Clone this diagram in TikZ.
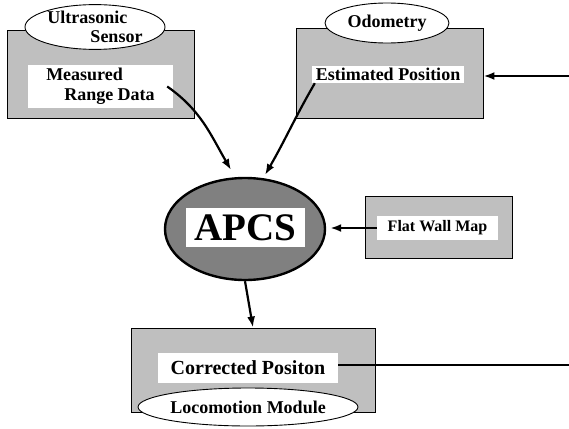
\documentclass[tikz,border=0pt]{standalone}
\usepackage{fontspec}
\setmainfont{Liberation Serif}
\usetikzlibrary{shapes.geometric,arrows.meta}

\begin{document}
\begin{tikzpicture}[x=1pt,y=1pt,
  every node/.style={inner sep=0pt,font=\bfseries\fontsize{18}{20}\selectfont},
  graybox/.style={draw=black,line width=0.9pt,fill=black!25,rectangle},
  whitebox/.style={fill=white,rectangle},
  label/.style={draw=black,line width=0.9pt,fill=white,ellipse},
  flow/.style={line width=2.2pt,-{Latex[length=11pt,width=8pt]}}]
\useasboundingbox (0,0) rectangle (569,-428);
% sensor
\node [graybox,minimum width=187,minimum height=88] (usbox) at (100.5,-74) {};
\node [label,minimum width=140,minimum height=44,align=left] (usell) at (95,-27) {Ultrasonic\\[-1pt]\hspace*{43pt}Sensor};
\node [whitebox,minimum width=145,minimum height=43,align=left] (usdata) at (100.5,-86.5) {Measured\\\hspace*{18pt}Range Data};
% odometry
\node [graybox,minimum width=187,minimum height=90] (odbox) at (389.5,-73) {};
\node [label,minimum width=124,minimum height=40] (odell) at (387,-23) {Odometry};
\node [whitebox,minimum width=152,minimum height=17] (estpos) at (388,-74.5) {Estimated Position};
\coordinate (odin) at (569,-76);
% apcs
\node [ellipse,draw=black,line width=2.4pt,fill=black!50,minimum width=160,minimum height=102] (apcs) at (245,-229) {};
\node [whitebox,minimum width=119,minimum height=39,font=\bfseries\fontsize{39}{40}\selectfont] (apcsname) at (245.5,-227.5) {APCS};
% map
\node [graybox,minimum width=147,minimum height=62] (wallbox) at (438.5,-227) {};
\node [whitebox,minimum width=121,minimum height=24,font=\bfseries\fontsize{16}{18}\selectfont] (wallmap) at (437.5,-228) {Flat Wall Map};
% locomotion
\node [graybox,minimum width=244,minimum height=84] (lmbox) at (253,-370) {};
\node [whitebox,minimum width=180,minimum height=30,font=\bfseries\fontsize{20}{22}\selectfont] (corrpos) at (248,-368) {Corrected Positon};
\node [label,minimum width=203,minimum height=38] (lmell) at (248,-407) {Locomotion Module};
\coordinate (lmout) at (569,-365);
% connectors
\draw [flow] ([xshift=-6pt]usdata.east) to[out=-35,in=120] (231,-170);
\draw [flow] ([xshift=3pt]estpos.south west) to[out=-120,in=60] (265,-175);
\draw [flow] (odin) -- (odin -| odbox.east);
\draw [flow,shorten >=4pt] (wallmap.west) -- (wallmap.west -| apcs.east);
\draw [flow] (apcs.south) -- (lmbox.north);
\draw [line width=2.2pt] (corrpos.east |- lmout) -- (lmout);
\end{tikzpicture}
\end{document}
